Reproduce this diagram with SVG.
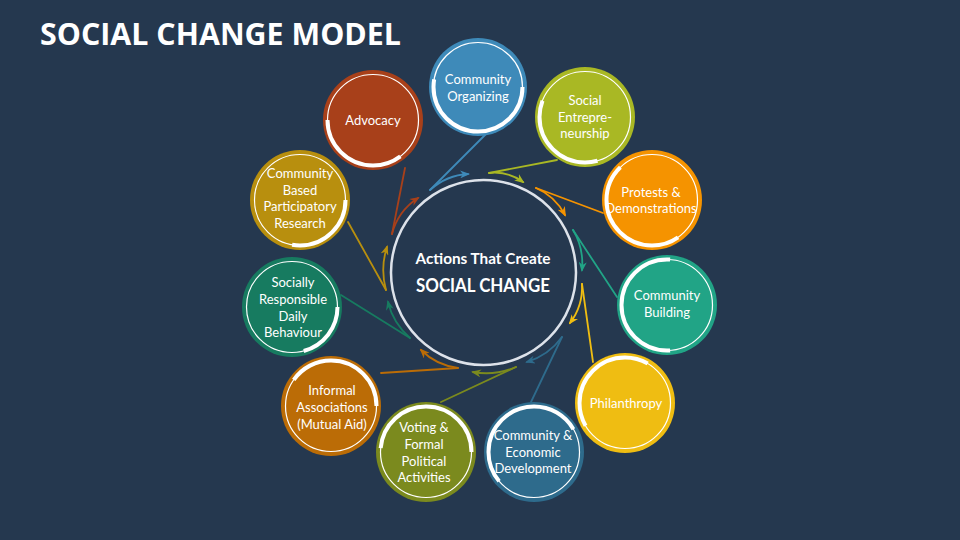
<svg xmlns="http://www.w3.org/2000/svg" width="960" height="540" viewBox="0 0 960 540">
<style>
.nt{font-family:Lato,"Open Sans","Liberation Sans",sans-serif;font-size:13px;fill:#ffffff;text-anchor:middle}
.ring{fill:none;stroke:#ffffff;stroke-width:1.2}
.arc{fill:none;stroke:#ffffff;stroke-width:4}
.ln{fill:none;stroke-width:1.8;stroke-linecap:round}
</style>
<defs>
<marker id="m1" viewBox="0 0 10 8" refX="8" refY="4" markerWidth="10" markerHeight="8" markerUnits="userSpaceOnUse" orient="auto"><path d="M0,0 L10,4 L0,8 L3,4 z" fill="#a8401a"/></marker>
<marker id="m2" viewBox="0 0 10 8" refX="8" refY="4" markerWidth="10" markerHeight="8" markerUnits="userSpaceOnUse" orient="auto"><path d="M0,0 L10,4 L0,8 L3,4 z" fill="#3e8ab9"/></marker>
<marker id="m3" viewBox="0 0 10 8" refX="8" refY="4" markerWidth="10" markerHeight="8" markerUnits="userSpaceOnUse" orient="auto"><path d="M0,0 L10,4 L0,8 L3,4 z" fill="#a9b824"/></marker>
<marker id="m4" viewBox="0 0 10 8" refX="8" refY="4" markerWidth="10" markerHeight="8" markerUnits="userSpaceOnUse" orient="auto"><path d="M0,0 L10,4 L0,8 L3,4 z" fill="#f59300"/></marker>
<marker id="m5" viewBox="0 0 10 8" refX="8" refY="4" markerWidth="10" markerHeight="8" markerUnits="userSpaceOnUse" orient="auto"><path d="M0,0 L10,4 L0,8 L3,4 z" fill="#21a486"/></marker>
<marker id="m6" viewBox="0 0 10 8" refX="8" refY="4" markerWidth="10" markerHeight="8" markerUnits="userSpaceOnUse" orient="auto"><path d="M0,0 L10,4 L0,8 L3,4 z" fill="#efbd12"/></marker>
<marker id="m7" viewBox="0 0 10 8" refX="8" refY="4" markerWidth="10" markerHeight="8" markerUnits="userSpaceOnUse" orient="auto"><path d="M0,0 L10,4 L0,8 L3,4 z" fill="#2e6b8c"/></marker>
<marker id="m8" viewBox="0 0 10 8" refX="8" refY="4" markerWidth="10" markerHeight="8" markerUnits="userSpaceOnUse" orient="auto"><path d="M0,0 L10,4 L0,8 L3,4 z" fill="#7b8a1e"/></marker>
<marker id="m9" viewBox="0 0 10 8" refX="8" refY="4" markerWidth="10" markerHeight="8" markerUnits="userSpaceOnUse" orient="auto"><path d="M0,0 L10,4 L0,8 L3,4 z" fill="#bb6c06"/></marker>
<marker id="m10" viewBox="0 0 10 8" refX="8" refY="4" markerWidth="10" markerHeight="8" markerUnits="userSpaceOnUse" orient="auto"><path d="M0,0 L10,4 L0,8 L3,4 z" fill="#177b60"/></marker>
<marker id="m11" viewBox="0 0 10 8" refX="8" refY="4" markerWidth="10" markerHeight="8" markerUnits="userSpaceOnUse" orient="auto"><path d="M0,0 L10,4 L0,8 L3,4 z" fill="#b88f0e"/></marker>
</defs>
<rect width="960" height="540" fill="#25384f"/>
<text x="40" y="45" font-family="'Open Sans','Liberation Sans',sans-serif" font-weight="bold" font-size="31" fill="#ffffff" textLength="361" lengthAdjust="spacingAndGlyphs">SOCIAL CHANGE MODEL</text>

<g id="connectors">
<path class="ln" stroke="#a8401a" d="M405,168 L392,234"/>
<path class="ln" stroke="#a8401a" d="M392,234 Q398,211 418,198" marker-end="url(#m1)"/>
<path class="ln" stroke="#3e8ab9" d="M486,134 L430,190"/>
<path class="ln" stroke="#3e8ab9" d="M430,190 Q447,175 468,174" marker-end="url(#m2)"/>
<path class="ln" stroke="#a9b824" d="M557,160 L489,173"/>
<path class="ln" stroke="#a9b824" d="M489,173 Q508,171 523,182" marker-end="url(#m3)"/>
<path class="ln" stroke="#f59300" d="M603,213 L536,188"/>
<path class="ln" stroke="#f59300" d="M536,188 Q555,196 565,215" marker-end="url(#m4)"/>
<path class="ln" stroke="#21a486" d="M617,297 L573,230"/>
<path class="ln" stroke="#21a486" d="M573,230 Q584,248 582,270" marker-end="url(#m5)"/>
<path class="ln" stroke="#efbd12" d="M593,362 L582,284"/>
<path class="ln" stroke="#efbd12" d="M582,284 Q583,306 570,323" marker-end="url(#m6)"/>
<path class="ln" stroke="#2e6b8c" d="M531,402 L562,337"/>
<path class="ln" stroke="#2e6b8c" d="M562,337 Q549,355 527,362" marker-end="url(#m7)"/>
<path class="ln" stroke="#7b8a1e" d="M441,402 L516,367"/>
<path class="ln" stroke="#7b8a1e" d="M516,367 Q495,376 473,372" marker-end="url(#m8)"/>
<path class="ln" stroke="#bb6c06" d="M381,373 L458,368"/>
<path class="ln" stroke="#bb6c06" d="M458,368 Q436,365 421,350" marker-end="url(#m9)"/>
<path class="ln" stroke="#177b60" d="M341,295 L410,338"/>
<path class="ln" stroke="#177b60" d="M410,338 Q393,323 388,302" marker-end="url(#m10)"/>
<path class="ln" stroke="#b88f0e" d="M348,222 L386,290"/>
<path class="ln" stroke="#b88f0e" d="M386,290 Q380,268 387,247" marker-end="url(#m11)"/>
</g>

<g id="center">
<circle cx="483.5" cy="272.5" r="92.5" fill="#25384f" stroke="#dde2ea" stroke-width="2.5"/>
<text x="483" y="264" font-family="Lato,'Open Sans','Liberation Sans',sans-serif" font-weight="bold" font-size="15" fill="#ffffff" text-anchor="middle" textLength="135" lengthAdjust="spacingAndGlyphs">Actions That Create</text>
<text x="483" y="292" font-family="Lato,'Open Sans','Liberation Sans',sans-serif" font-weight="bold" font-size="19" fill="#ffffff" text-anchor="middle" textLength="134" lengthAdjust="spacingAndGlyphs">SOCIAL CHANGE</text>
</g>

<g id="advocacy">
<circle cx="373" cy="120" r="50" fill="#a8401a"/>
<circle class="ring" cx="373" cy="120" r="45.5"/>
<circle class="arc" cx="373" cy="120" r="45.5" pathLength="360" stroke-dasharray="127 360" stroke-dashoffset="-53"/>
<text class="nt" x="373" y="125">Advocacy</text>
</g>

<g id="community-organizing">
<circle cx="478" cy="87" r="49" fill="#3e8ab9"/>
<circle class="ring" cx="478" cy="87" r="44.5"/>
<circle class="arc" cx="478" cy="87" r="44.5" pathLength="360" stroke-dasharray="200 360" stroke-dashoffset="10"/>
<text class="nt" x="478" y="84">Community</text>
<text class="nt" x="478" y="101">Organizing</text>
</g>

<g id="social-entrepreneurship">
<circle cx="585" cy="117" r="50" fill="#a9b824"/>
<circle class="ring" cx="585" cy="117" r="45.5"/>
<circle class="arc" cx="585" cy="117" r="45.5" pathLength="360" stroke-dasharray="127 360" stroke-dashoffset="-74"/>
<text class="nt" x="585" y="105">Social</text>
<text class="nt" x="585" y="122">Entrepre-</text>
<text class="nt" x="585" y="138">neurship</text>
</g>

<g id="protests">
<circle cx="652" cy="200" r="50" fill="#f59300"/>
<circle class="ring" cx="652" cy="200" r="45.5"/>
<circle class="arc" cx="652" cy="200" r="45.5" pathLength="360" stroke-dasharray="171 360" stroke-dashoffset="-55"/>
<text class="nt" x="651" y="197">Protests &amp;</text>
<text class="nt" x="651" y="213">Demonstrations</text>
</g>

<g id="community-building">
<circle cx="667" cy="305" r="50" fill="#21a486"/>
<circle class="ring" cx="667" cy="305" r="45.5"/>
<circle class="arc" cx="667" cy="305" r="45.5" pathLength="360" stroke-dasharray="188 360" stroke-dashoffset="-86"/>
<text class="nt" x="667" y="300">Community</text>
<text class="nt" x="667" y="317">Building</text>
</g>

<g id="philanthropy">
<circle cx="625" cy="403" r="50" fill="#efbd12"/>
<circle class="ring" cx="625" cy="403" r="45.5"/>
<circle class="arc" cx="625" cy="403" r="45.5" pathLength="360" stroke-dasharray="150 360" stroke-dashoffset="-150"/>
<text class="nt" x="626" y="408">Philanthropy</text>
</g>

<g id="community-economic-development">
<circle cx="534" cy="452" r="50" fill="#2e6b8c"/>
<circle class="ring" cx="534" cy="452" r="45.5"/>
<circle class="arc" cx="534" cy="452" r="45.5" pathLength="360" stroke-dasharray="190 360" stroke-dashoffset="-140"/>
<text class="nt" x="533" y="440">Community &amp;</text>
<text class="nt" x="533" y="457">Economic</text>
<text class="nt" x="533" y="473">Development</text>
</g>

<g id="voting">
<circle cx="426" cy="452" r="50" fill="#7b8a1e"/>
<circle class="ring" cx="426" cy="452" r="45.5"/>
<circle class="arc" cx="426" cy="452" r="45.5" pathLength="360" stroke-dasharray="185 360" stroke-dashoffset="-185"/>
<text class="nt" x="424" y="432">Voting &amp;</text>
<text class="nt" x="424" y="449">Formal</text>
<text class="nt" x="424" y="466">Political</text>
<text class="nt" x="424" y="482">Activities</text>
</g>

<g id="informal-associations">
<circle cx="331" cy="406" r="50" fill="#bb6c06"/>
<circle class="ring" cx="331" cy="406" r="45.5"/>
<circle class="arc" cx="331" cy="406" r="45.5" pathLength="360" stroke-dasharray="185 360" stroke-dashoffset="-215"/>
<text class="nt" x="332" y="395">Informal</text>
<text class="nt" x="332" y="412">Associations</text>
<text class="nt" x="332" y="429">(Mutual Aid)</text>
</g>

<g id="socially-responsible">
<circle cx="292" cy="307" r="50" fill="#177b60"/>
<circle class="ring" cx="292" cy="307" r="45.5"/>
<circle class="arc" cx="292" cy="307" r="45.5" pathLength="360" stroke-dasharray="175 360" stroke-dashoffset="100"/>
<text class="nt" x="293" y="287">Socially</text>
<text class="nt" x="293" y="304">Responsible</text>
<text class="nt" x="293" y="321">Daily</text>
<text class="nt" x="293" y="337">Behaviour</text>
</g>

<g id="cbpr">
<circle cx="300" cy="200" r="50" fill="#b88f0e"/>
<circle class="ring" cx="300" cy="200" r="45.5"/>
<circle class="arc" cx="300" cy="200" r="45.5" pathLength="360" stroke-dasharray="180 360" stroke-dashoffset="80"/>
<text class="nt" x="300" y="178">Community</text>
<text class="nt" x="300" y="195">Based</text>
<text class="nt" x="300" y="211">Participatory</text>
<text class="nt" x="300" y="228">Research</text>
</g>
</svg>
